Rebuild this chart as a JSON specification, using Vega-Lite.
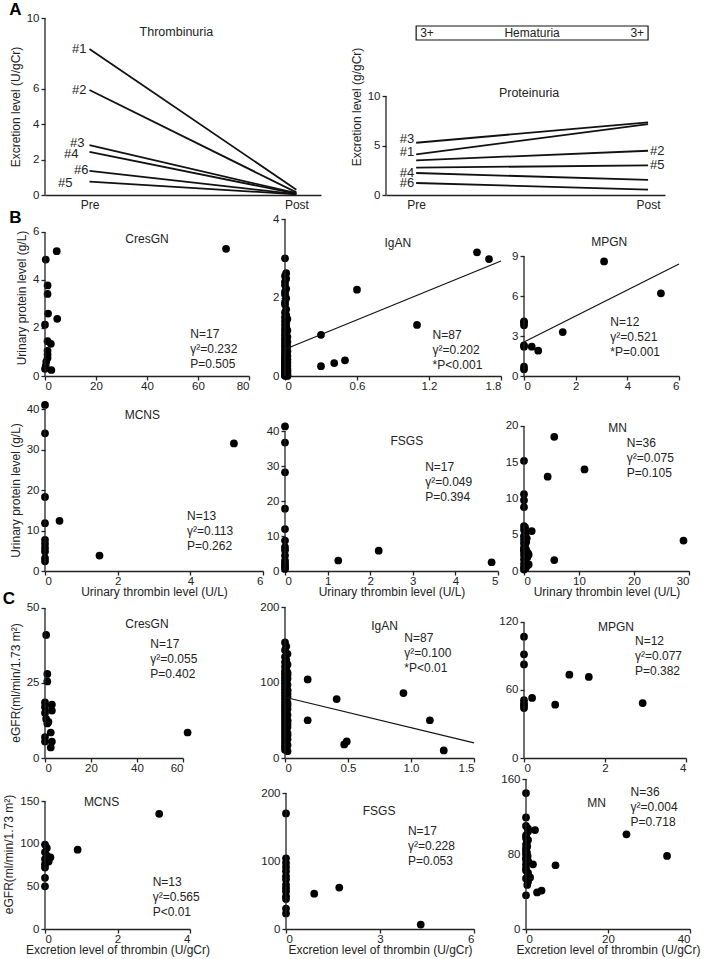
{
"$schema":"https://vega.github.io/schema/vega-lite/v6.json",
"autosize":{"type":"pad"},
"padding":{"left":2,"top":1,"right":2,"bottom":1},
"config":{
"view":{"stroke":null},
"font":"Liberation Sans",
"axis":{"grid":false,"labelFont":"Liberation Sans","labelFontSize":11.5,"labelColor":"#222","titleFont":"Liberation Sans","titleFontSize":12,"titleFontWeight":"normal","titleColor":"#222","domainColor":"#222","domainWidth":1.3,"tickColor":"#222","tickWidth":1.3,"tickSize":4,"labelPadding":2,"titlePadding":4},
"axisY":{"domain":false},
"axisX":{"titlePadding":0,"labelPadding":0},
"text":{"font":"Liberation Sans","fontSize":12,"color":"#222"},
"circle":{"size":60,"opacity":1,"color":"#000"},
"line":{"color":"#111","strokeWidth":1.2},
"rule":{"color":"#222","strokeWidth":1.3},
"title":{"anchor":"start","fontSize":17,"fontWeight":"bold","font":"Liberation Sans","color":"#000","offset":-7}
},
"datasets":{
"thromb":[{"id":"#1","t":0,"v":8.25},{"id":"#1","t":1,"v":0.3},{"id":"#2","t":0,"v":5.93},{"id":"#2","t":1,"v":0.15},{"id":"#3","t":0,"v":2.82},{"id":"#3","t":1,"v":0.1},{"id":"#4","t":0,"v":2.43},{"id":"#4","t":1,"v":0.08},{"id":"#5","t":0,"v":0.75},{"id":"#5","t":1,"v":0.04},{"id":"#6","t":0,"v":1.36},{"id":"#6","t":1,"v":0.05}],
"prot":[{"id":"#1","t":0,"v":4.1},{"id":"#1","t":1,"v":7.17},{"id":"#2","t":0,"v":3.5},{"id":"#2","t":1,"v":4.47},{"id":"#3","t":0,"v":5.28},{"id":"#3","t":1,"v":7.34},{"id":"#4","t":0,"v":2.22},{"id":"#4","t":1,"v":1.52},{"id":"#5","t":0,"v":2.76},{"id":"#5","t":1,"v":3.0},{"id":"#6","t":0,"v":1.21},{"id":"#6","t":1,"v":0.54}],
"bCres":[{"x":4.6,"y":5.2},{"x":0.3,"y":4.85},{"x":1.0,"y":3.77},{"x":1.0,"y":3.42},{"x":1.2,"y":2.6},{"x":4.8,"y":2.38},{"x":0,"y":2.14},{"x":1.0,"y":1.45},{"x":2.3,"y":1.34},{"x":1.0,"y":1.05},{"x":1.0,"y":0.9},{"x":1.0,"y":0.75},{"x":0.3,"y":0.42},{"x":0,"y":0.3},{"x":2.5,"y":0.25},{"x":71,"y":5.3},{"x":0.5,"y":0.6}],
"bIgan":[{"x":0,"y":3.0},{"x":0.01,"y":2.62},{"x":0,"y":2.55},{"x":0.01,"y":2.48},{"x":0,"y":2.4},{"x":0,"y":2.32},{"x":0.01,"y":2.22},{"x":0,"y":2.15},{"x":0,"y":2.08},{"x":0.01,"y":1.98},{"x":0,"y":1.88},{"x":0,"y":1.82},{"x":0.01,"y":1.7},{"x":0,"y":1.62},{"x":0.01,"y":1.55},{"x":0,"y":1.5},{"x":0.02,"y":1.45},{"x":0,"y":1.4},{"x":0.01,"y":1.35},{"x":0,"y":1.3},{"x":0.01,"y":1.25},{"x":0,"y":1.2},{"x":0.02,"y":1.16},{"x":0,"y":1.12},{"x":0.01,"y":1.08},{"x":0,"y":1.04},{"x":0.02,"y":1.0},{"x":0,"y":0.96},{"x":0.01,"y":0.93},{"x":0,"y":0.9},{"x":0.02,"y":0.87},{"x":0,"y":0.84},{"x":0.01,"y":0.81},{"x":0,"y":0.78},{"x":0.02,"y":0.75},{"x":0,"y":0.72},{"x":0.01,"y":0.69},{"x":0,"y":0.66},{"x":0.02,"y":0.63},{"x":0,"y":0.6},{"x":0.01,"y":0.57},{"x":0,"y":0.54},{"x":0.02,"y":0.51},{"x":0,"y":0.48},{"x":0.01,"y":0.46},{"x":0,"y":0.44},{"x":0.02,"y":0.42},{"x":0,"y":0.4},{"x":0.01,"y":0.38},{"x":0,"y":0.36},{"x":0.02,"y":0.34},{"x":0,"y":0.32},{"x":0.01,"y":0.3},{"x":0,"y":0.28},{"x":0.02,"y":0.26},{"x":0,"y":0.24},{"x":0.01,"y":0.22},{"x":0,"y":0.2},{"x":0.02,"y":0.18},{"x":0,"y":0.17},{"x":0.01,"y":0.16},{"x":0,"y":0.15},{"x":0.02,"y":0.14},{"x":0,"y":0.13},{"x":0.01,"y":0.12},{"x":0,"y":0.11},{"x":0.02,"y":0.1},{"x":0,"y":0.09},{"x":0.01,"y":0.08},{"x":0,"y":0.07},{"x":0.02,"y":0.06},{"x":0,"y":0.05},{"x":0.01,"y":0.04},{"x":0,"y":0.03},{"x":0.02,"y":0.02},{"x":0,"y":0.015},{"x":0.01,"y":0.01},{"x":0,"y":0.005},{"x":0.02,"y":0.0},{"x":0.3,"y":1.05},{"x":0.3,"y":0.25},{"x":0.41,"y":0.33},{"x":0.5,"y":0.4},{"x":0.6,"y":2.2},{"x":1.1,"y":1.3},{"x":1.6,"y":3.15},{"x":1.7,"y":2.98}],
"bIganFit":[{"x":0,"y":0.68},{"x":1.8,"y":2.93}],
"bMpgn":[{"x":3.1,"y":8.6},{"x":5.3,"y":6.2},{"x":1.5,"y":3.3},{"x":0,"y":4.1},{"x":0,"y":3.8},{"x":0,"y":2.3},{"x":0.3,"y":2.2},{"x":0.55,"y":1.9},{"x":0,"y":0.7},{"x":0,"y":0.5},{"x":0,"y":4.0},{"x":0,"y":2.2}],
"bMpgnFit":[{"x":0,"y":2.55},{"x":6,"y":8.4}],
"bMcns":[{"x":0,"y":41},{"x":0,"y":34},{"x":0,"y":18.3},{"x":0,"y":11.8},{"x":0,"y":7.7},{"x":0,"y":6.7},{"x":0,"y":5.7},{"x":0,"y":3.2},{"x":0,"y":2.4},{"x":0.4,"y":12.4},{"x":1.5,"y":3.8},{"x":5.2,"y":31.5},{"x":0,"y":4.8}],
"bFsgs":[{"x":0,"y":41.3},{"x":0,"y":36.7},{"x":0,"y":28.2},{"x":0,"y":17.8},{"x":0,"y":12},{"x":0,"y":8.7},{"x":0,"y":5.9},{"x":0,"y":4.4},{"x":0,"y":3},{"x":0,"y":1.6},{"x":0,"y":0.6},{"x":1.25,"y":3},{"x":2.2,"y":5.8},{"x":4.85,"y":2.5},{"x":0,"y":2.2},{"x":0,"y":6.8},{"x":0,"y":1}],
"bMn":[{"x":5.5,"y":18.5},{"x":0,"y":15.2},{"x":4.3,"y":13},{"x":11,"y":14},{"x":0,"y":10.6},{"x":0,"y":9.75},{"x":0,"y":8.8},{"x":0,"y":6.2},{"x":0,"y":5.7},{"x":1.4,"y":5.5},{"x":0,"y":4.8},{"x":0,"y":4.3},{"x":0,"y":3.8},{"x":0,"y":3.2},{"x":0,"y":2.7},{"x":0,"y":2.2},{"x":0,"y":1.6},{"x":0,"y":1.0},{"x":0,"y":0.5},{"x":0.85,"y":2.25},{"x":0.85,"y":0.9},{"x":5.5,"y":1.5},{"x":29,"y":4.2},{"x":0.3,"y":5.2},{"x":0.5,"y":4.5},{"x":0.2,"y":3.5},{"x":0.4,"y":2.9},{"x":0.6,"y":1.9},{"x":0.3,"y":1.3},{"x":0,"y":0.2},{"x":0.5,"y":0.7},{"x":0.2,"y":6.0},{"x":0.4,"y":4.0},{"x":0,"y":3.0},{"x":0.7,"y":2.5},{"x":0.3,"y":0.4}],
"cCres":[{"x":0.5,"y":41},{"x":1,"y":28},{"x":1,"y":25.5},{"x":0,"y":18.5},{"x":3,"y":17.8},{"x":3,"y":15.8},{"x":0,"y":15},{"x":0.5,"y":13},{"x":1,"y":11.5},{"x":2.5,"y":8.5},{"x":0,"y":7},{"x":0,"y":5.5},{"x":3,"y":5.5},{"x":2.5,"y":3.5},{"x":62,"y":8.5},{"x":0,"y":17},{"x":1.5,"y":12}],
"cIgan":[{"x":0,"y":153},{"x":0.01,"y":148},{"x":0,"y":143},{"x":0.02,"y":138},{"x":0,"y":134},{"x":0.01,"y":130},{"x":0,"y":127},{"x":0.02,"y":124},{"x":0,"y":121},{"x":0.01,"y":118},{"x":0,"y":115},{"x":0.02,"y":113},{"x":0,"y":111},{"x":0.01,"y":109},{"x":0,"y":107},{"x":0.02,"y":105},{"x":0,"y":103},{"x":0.01,"y":101},{"x":0,"y":99},{"x":0.02,"y":97},{"x":0,"y":95},{"x":0.01,"y":93},{"x":0,"y":91},{"x":0.02,"y":89},{"x":0,"y":87},{"x":0.01,"y":85},{"x":0,"y":83},{"x":0.02,"y":81},{"x":0,"y":79},{"x":0.01,"y":77},{"x":0,"y":75},{"x":0.02,"y":73},{"x":0,"y":71},{"x":0.01,"y":69},{"x":0,"y":67},{"x":0.02,"y":65},{"x":0,"y":63},{"x":0.01,"y":61},{"x":0,"y":59},{"x":0.02,"y":57},{"x":0,"y":55},{"x":0.01,"y":53},{"x":0,"y":51},{"x":0.02,"y":49},{"x":0,"y":47},{"x":0.01,"y":45},{"x":0,"y":43},{"x":0.02,"y":41},{"x":0,"y":39},{"x":0.01,"y":37},{"x":0,"y":35},{"x":0.02,"y":33},{"x":0,"y":31},{"x":0.01,"y":29},{"x":0,"y":27},{"x":0.02,"y":25},{"x":0,"y":23},{"x":0.01,"y":21},{"x":0,"y":19},{"x":0.02,"y":17},{"x":0,"y":15},{"x":0.01,"y":13},{"x":0,"y":11},{"x":0.02,"y":9},{"x":0.01,"y":100},{"x":0.02,"y":90},{"x":0.01,"y":80},{"x":0.02,"y":70},{"x":0.01,"y":60},{"x":0.02,"y":50},{"x":0.01,"y":40},{"x":0.02,"y":30},{"x":0.01,"y":20},{"x":0.02,"y":110},{"x":0.01,"y":120},{"x":0.02,"y":85},{"x":0.01,"y":65},{"x":0.02,"y":45},{"x":0.01,"y":25},{"x":0.18,"y":104},{"x":0.18,"y":50},{"x":0.41,"y":78},{"x":0.47,"y":18},{"x":0.49,"y":22},{"x":0.94,"y":86},{"x":1.15,"y":50},{"x":1.26,"y":10}],
"cIganFit":[{"x":0,"y":80.5},{"x":1.5,"y":20}],
"cMpgn":[{"x":0,"y":107},{"x":0,"y":91.5},{"x":0,"y":82.5},{"x":1.12,"y":73.5},{"x":1.6,"y":71.5},{"x":0.2,"y":53},{"x":0,"y":51},{"x":0,"y":48},{"x":0,"y":44},{"x":0.77,"y":47},{"x":2.93,"y":48.5},{"x":0,"y":46}],
"cMcns":[{"x":3.15,"y":135},{"x":0.9,"y":93},{"x":0,"y":99},{"x":0.05,"y":95},{"x":0,"y":90},{"x":0.15,"y":84},{"x":0,"y":82},{"x":0,"y":76},{"x":0,"y":72},{"x":0,"y":60},{"x":0,"y":50},{"x":0.05,"y":86},{"x":0.1,"y":79}],
"cFsgs":[{"x":0,"y":170},{"x":0,"y":104},{"x":0,"y":91},{"x":0,"y":77.6},{"x":0,"y":72.7},{"x":0,"y":60},{"x":0,"y":55},{"x":0,"y":44.3},{"x":0,"y":22.8},{"x":0.9,"y":52},{"x":1.7,"y":61},{"x":4.3,"y":6.5},{"x":0,"y":65},{"x":0,"y":85},{"x":0,"y":48},{"x":0,"y":30},{"x":0,"y":97}],
"cMn":[{"x":0,"y":145},{"x":0,"y":119},{"x":0.5,"y":107},{"x":0.5,"y":104},{"x":2.2,"y":105.5},{"x":0,"y":97},{"x":0,"y":90},{"x":0,"y":83},{"x":0,"y":80},{"x":0,"y":76},{"x":0,"y":69},{"x":1.7,"y":69},{"x":7.2,"y":68},{"x":0,"y":62.5},{"x":0.5,"y":57},{"x":0.5,"y":50.5},{"x":2.7,"y":39},{"x":3.8,"y":41},{"x":0,"y":36},{"x":24.5,"y":101},{"x":34.4,"y":78},{"x":0,"y":110},{"x":0.5,"y":95},{"x":0.3,"y":88},{"x":0,"y":86},{"x":0.4,"y":78},{"x":0,"y":74},{"x":0.6,"y":72},{"x":0,"y":65},{"x":0.5,"y":60},{"x":0,"y":54},{"x":0.3,"y":47},{"x":1,"y":55},{"x":0.2,"y":92},{"x":0,"y":100},{"x":0.2,"y":82}]
},
"spacing":-8,
"vconcat":[
{"spacing":-1,"vconcat":[
{"title":{"text":"A","offset":-7},"spacing":0,"bounds":"flush","hconcat":[
{"width":276,"height":177,"data":{"name":"thromb"},"layer":[
{"mark":{"type":"line","strokeWidth":1.8},"encoding":{"x":{"field":"t","type":"quantitative","scale":{"domain":[-0.215,1.119],"nice":false,"zero":false},"axis":{"values":[0,1],"labelExpr":"datum.value==0?'Pre':'Post'","ticks":false,"title":null,"labelFontSize":12,"labelPadding":4}},"y":{"field":"v","type":"quantitative","scale":{"domain":[0,10],"nice":false,"zero":false},"axis":{"values":[0,2,4,6,10],"title":"Excretion level (U/gCr)"}},"detail":{"field":"id"}}},
{"transform":[{"filter":"datum.t==0 && (datum.id=='#1' || datum.id=='#2')"}],"mark":{"type":"text","align":"right","dx":-3,"fontSize":13},"encoding":{"x":{"field":"t","type":"quantitative"},"y":{"field":"v","type":"quantitative"},"text":{"field":"id"}}},
{"transform":[{"filter":"datum.t==0 && datum.id=='#3'"}],"mark":{"type":"text","align":"right","dx":-5,"dy":-2,"fontSize":13},"encoding":{"x":{"field":"t","type":"quantitative"},"y":{"field":"v","type":"quantitative"},"text":{"field":"id"}}},
{"transform":[{"filter":"datum.t==0 && datum.id=='#4'"}],"mark":{"type":"text","align":"right","dx":-11,"dy":2,"fontSize":13},"encoding":{"x":{"field":"t","type":"quantitative"},"y":{"field":"v","type":"quantitative"},"text":{"field":"id"}}},
{"transform":[{"filter":"datum.t==0 && datum.id=='#6'"}],"mark":{"type":"text","align":"right","dx":-1,"dy":-1,"fontSize":13},"encoding":{"x":{"field":"t","type":"quantitative"},"y":{"field":"v","type":"quantitative"},"text":{"field":"id"}}},
{"transform":[{"filter":"datum.t==0 && datum.id=='#5'"}],"mark":{"type":"text","align":"right","dx":-17,"dy":1,"fontSize":13},"encoding":{"x":{"field":"t","type":"quantitative"},"y":{"field":"v","type":"quantitative"},"text":{"field":"id"}}},
{"data":{"values":[{}]},"mark":"rule","encoding":{"x":{"datum":-0.215},"y":{"datum":0},"y2":{"datum":10}}},
{"data":{"values":[{}]},"mark":{"type":"text","fontSize":12.5},"encoding":{"x":{"datum":0.42},"y":{"datum":9.2},"text":{"value":"Thrombinuria"}}}
]},
{"width":65,"height":10,"data":{"values":[{}]},"mark":{"type":"point","opacity":0}},
{"width":279,"height":177,"data":{"name":"prot"},"layer":[
{"mark":{"type":"line","strokeWidth":1.8},"encoding":{"x":{"field":"t","type":"quantitative","scale":{"domain":[-0.13,1.073],"nice":false,"zero":false},"axis":{"values":[0,1],"labelExpr":"datum.value==0?'Pre':'Post'","ticks":false,"title":null,"labelFontSize":12,"labelPadding":4}},"y":{"field":"v","type":"quantitative","scale":{"domain":[0,17.88],"nice":false,"zero":false},"axis":{"values":[0,5,10],"title":"Excretion level (g/gCr)"}},"detail":{"field":"id"}}},
{"transform":[{"filter":"datum.t==0 && datum.id=='#3'"}],"mark":{"type":"text","align":"right","dx":-2,"dy":-4,"fontSize":13},"encoding":{"x":{"field":"t","type":"quantitative"},"y":{"field":"v","type":"quantitative"},"text":{"field":"id"}}},
{"transform":[{"filter":"datum.t==0 && datum.id=='#1'"}],"mark":{"type":"text","align":"right","dx":-2,"dy":-2,"fontSize":13},"encoding":{"x":{"field":"t","type":"quantitative"},"y":{"field":"v","type":"quantitative"},"text":{"field":"id"}}},
{"transform":[{"filter":"datum.t==0 && (datum.id=='#4' || datum.id=='#6')"}],"mark":{"type":"text","align":"right","dx":-2,"fontSize":13},"encoding":{"x":{"field":"t","type":"quantitative"},"y":{"field":"v","type":"quantitative"},"text":{"field":"id"}}},
{"transform":[{"filter":"datum.t==1 && (datum.id=='#2' || datum.id=='#5')"}],"mark":{"type":"text","align":"left","dx":2,"fontSize":13},"encoding":{"x":{"field":"t","type":"quantitative"},"y":{"field":"v","type":"quantitative"},"text":{"field":"id"}}},
{"data":{"values":[{}]},"mark":"rule","encoding":{"x":{"datum":-0.13},"y":{"datum":0},"y2":{"datum":10}}},
{"data":{"values":[{}]},"mark":{"type":"rect","fillOpacity":0,"stroke":"#111","strokeWidth":1.2},"encoding":{"x":{"datum":0},"x2":{"datum":1},"y":{"datum":15.66},"y2":{"datum":17.07}}},
{"data":{"values":[{}]},"mark":{"type":"text","align":"left","dx":4,"fontSize":12},"encoding":{"x":{"datum":0},"y":{"datum":16.36},"text":{"value":"3+"}}},
{"data":{"values":[{}]},"mark":{"type":"text","fontSize":12},"encoding":{"x":{"datum":0.5},"y":{"datum":16.36},"text":{"value":"Hematuria"}}},
{"data":{"values":[{}]},"mark":{"type":"text","align":"right","dx":-4,"fontSize":12},"encoding":{"x":{"datum":1},"y":{"datum":16.36},"text":{"value":"3+"}}},
{"data":{"values":[{}]},"mark":{"type":"text","fontSize":12.5},"encoding":{"x":{"datum":0.487},"y":{"datum":10.3},"text":{"value":"Proteinuria"}}}
]}
]},
{"title":{"text":"B","offset":-14},"spacing":9,"vconcat":[
{"spacing":0,"bounds":"flush","hconcat":[
{"width":204,"height":157,"layer":[
{"data":{"name":"bCres"},"mark":"circle","encoding":{"x":{"field":"x","type":"quantitative","scale":{"domain":[0,80],"nice":false,"zero":false},"axis":{"values":[0,20,40,60,80],"title":null}},"y":{"field":"y","type":"quantitative","scale":{"domain":[0,6.54],"nice":false,"zero":false},"axis":{"values":[0,2,4,6],"title":"Urinary protein level (g/L)"}}}},
{"data":{"values":[{}]},"mark":"rule","encoding":{"x":{"datum":0},"y":{"datum":0},"y2":{"datum":6}}},
{"data":{"values":[{}]},"mark":{"type":"text"},"encoding":{"x":{"datum":40},"y":{"datum":5.7},"text":{"value":"CresGN"}}},
{"data":{"values":[{}]},"mark":{"type":"text","align":"left","baseline":"top","lineHeight":15},"encoding":{"x":{"datum":57},"y":{"datum":1.96},"text":{"value":["N=17","γ²=0.232","P=0.505"]}}}
]},
{"width":36,"height":10,"data":{"values":[{}]},"mark":{"type":"point","opacity":0}},
{"width":216,"height":157,"layer":[
{"data":{"name":"bIgan"},"mark":"circle","encoding":{"x":{"field":"x","type":"quantitative","scale":{"domain":[0,1.8],"nice":false,"zero":false},"axis":{"values":[0,0.6,1.2,1.8],"format":"~g","title":null}},"y":{"field":"y","type":"quantitative","scale":{"domain":[0,4],"nice":false,"zero":false},"axis":{"values":[0,1,2,3,4],"title":null}}}},
{"data":{"name":"bIganFit"},"mark":"line","encoding":{"x":{"field":"x","type":"quantitative"},"y":{"field":"y","type":"quantitative"}}},
{"data":{"values":[{}]},"mark":"rule","encoding":{"x":{"datum":0},"y":{"datum":0},"y2":{"datum":4}}},
{"data":{"values":[{}]},"mark":{"type":"text"},"encoding":{"x":{"datum":0.94},"y":{"datum":3.38},"text":{"value":"IgAN"}}},
{"data":{"values":[{}]},"mark":{"type":"text","align":"left","baseline":"top","lineHeight":15},"encoding":{"x":{"datum":1.23},"y":{"datum":1.18},"text":{"value":["N=87","γ²=0.202","*P<0.001"]}}}
]},
{"width":23,"height":10,"data":{"values":[{}]},"mark":{"type":"point","opacity":0}},
{"width":155,"height":157,"layer":[
{"data":{"name":"bMpgn"},"mark":"circle","encoding":{"x":{"field":"x","type":"quantitative","scale":{"domain":[0,6],"nice":false,"zero":false},"axis":{"values":[0,2,4,6],"title":null}},"y":{"field":"y","type":"quantitative","scale":{"domain":[0,11.78],"nice":false,"zero":false},"axis":{"values":[0,3,6,9],"title":null}}}},
{"data":{"name":"bMpgnFit"},"mark":"line","encoding":{"x":{"field":"x","type":"quantitative"},"y":{"field":"y","type":"quantitative"}}},
{"data":{"values":[{}]},"mark":"rule","encoding":{"x":{"datum":0},"y":{"datum":0},"y2":{"datum":9}}},
{"data":{"values":[{}]},"mark":{"type":"text"},"encoding":{"x":{"datum":3.3},"y":{"datum":10.07},"text":{"value":"MPGN"}}},
{"data":{"values":[{}]},"mark":{"type":"text","align":"left","baseline":"top","lineHeight":15},"encoding":{"x":{"datum":3.34},"y":{"datum":4.43},"text":{"value":["N=12","γ²=0.521","*P=0.001"]}}}
]}
]},
{"spacing":0,"bounds":"flush","hconcat":[
{"width":218,"height":162,"layer":[
{"data":{"name":"bMcns"},"mark":"circle","encoding":{"x":{"field":"x","type":"quantitative","scale":{"domain":[0,6],"nice":false,"zero":false},"axis":{"values":[0,2,4,6],"title":"Urinary thrombin level (U/L)"}},"y":{"field":"y","type":"quantitative","scale":{"domain":[0,40],"nice":false,"zero":false},"axis":{"values":[0,10,20,30,40],"title":"Urinary protein level (g/L)"}}}},
{"data":{"values":[{}]},"mark":"rule","encoding":{"x":{"datum":0},"y":{"datum":0},"y2":{"datum":40}}},
{"data":{"values":[{}]},"mark":{"type":"text"},"encoding":{"x":{"datum":2.68},"y":{"datum":38.4},"text":{"value":"MCNS"}}},
{"data":{"values":[{}]},"mark":{"type":"text","align":"left","baseline":"top","lineHeight":15},"encoding":{"x":{"datum":3.91},"y":{"datum":14.9},"text":{"value":["N=13","γ²=0.113","P=0.262"]}}}
]},
{"width":22,"height":10,"data":{"values":[{}]},"mark":{"type":"point","opacity":0}},
{"width":213,"height":162,"layer":[
{"data":{"name":"bFsgs"},"mark":"circle","encoding":{"x":{"field":"x","type":"quantitative","scale":{"domain":[0,5],"nice":false,"zero":false},"axis":{"values":[0,1,2,3,4,5],"title":"Urinary thrombin level (U/L)"}},"y":{"field":"y","type":"quantitative","scale":{"domain":[0,46.29],"nice":false,"zero":false},"axis":{"values":[0,10,20,30,40],"title":null}}}},
{"data":{"values":[{}]},"mark":"rule","encoding":{"x":{"datum":0},"y":{"datum":0},"y2":{"datum":40}}},
{"data":{"values":[{}]},"mark":{"type":"text"},"encoding":{"x":{"datum":2.86},"y":{"datum":37.2},"text":{"value":"FSGS"}}},
{"data":{"values":[{}]},"mark":{"type":"text","align":"left","baseline":"top","lineHeight":15},"encoding":{"x":{"datum":3.29},"y":{"datum":31.1},"text":{"value":["N=17","γ²=0.049","P=0.394"]}}}
]},
{"width":26,"height":10,"data":{"values":[{}]},"mark":{"type":"point","opacity":0}},
{"width":165,"height":162,"layer":[
{"data":{"name":"bMn"},"mark":"circle","encoding":{"x":{"field":"x","type":"quantitative","scale":{"domain":[0,30],"nice":false,"zero":false},"axis":{"values":[0,10,20,30],"title":"Urinary thrombin level (U/L)"}},"y":{"field":"y","type":"quantitative","scale":{"domain":[0,22.34],"nice":false,"zero":false},"axis":{"values":[0,5,10,15,20],"title":null}}}},
{"data":{"values":[{}]},"mark":"rule","encoding":{"x":{"datum":0},"y":{"datum":0},"y2":{"datum":20}}},
{"data":{"values":[{}]},"mark":{"type":"text"},"encoding":{"x":{"datum":17},"y":{"datum":19.7},"text":{"value":"MN"}}},
{"data":{"values":[{}]},"mark":{"type":"text","align":"left","baseline":"top","lineHeight":15},"encoding":{"x":{"datum":18.7},"y":{"datum":18.4},"text":{"value":["N=36","γ²=0.075","P=0.105"]}}}
]}
]}
]}
]},
{"title":{"text":"C","offset":-7},"spacing":-1,"vconcat":[
{"spacing":0,"bounds":"flush","hconcat":[
{"width":138,"height":151,"layer":[
{"data":{"name":"cCres"},"mark":"circle","encoding":{"x":{"field":"x","type":"quantitative","scale":{"domain":[0,60],"nice":false,"zero":false},"axis":{"values":[0,20,40,60],"title":null}},"y":{"field":"y","type":"quantitative","scale":{"domain":[0,50.33],"nice":false,"zero":false},"axis":{"values":[0,25,50],"title":"eGFR(ml/min/1.73 m²)"}}}},
{"data":{"values":[{}]},"mark":"rule","encoding":{"x":{"datum":0},"y":{"datum":0},"y2":{"datum":50}}},
{"data":{"values":[{}]},"mark":{"type":"text"},"encoding":{"x":{"datum":44.3},"y":{"datum":44.7},"text":{"value":"CresGN"}}},
{"data":{"values":[{}]},"mark":{"type":"text","align":"left","baseline":"top","lineHeight":15},"encoding":{"x":{"datum":45.8},"y":{"datum":39.5},"text":{"value":["N=17","γ²=0.055","P=0.402"]}}}
]},
{"width":102,"height":10,"data":{"values":[{}]},"mark":{"type":"point","opacity":0}},
{"width":189,"height":151,"layer":[
{"data":{"name":"cIgan"},"mark":"circle","encoding":{"x":{"field":"x","type":"quantitative","scale":{"domain":[0,1.5],"nice":false,"zero":false},"axis":{"values":[0,0.5,1,1.5],"labelExpr":"datum.value==0?'0':format(datum.value,'.1f')","title":null}},"y":{"field":"y","type":"quantitative","scale":{"domain":[0,200],"nice":false,"zero":false},"axis":{"values":[0,100,200],"title":null}}}},
{"data":{"name":"cIganFit"},"mark":"line","encoding":{"x":{"field":"x","type":"quantitative"},"y":{"field":"y","type":"quantitative"}}},
{"data":{"values":[{}]},"mark":"rule","encoding":{"x":{"datum":0},"y":{"datum":0},"y2":{"datum":200}}},
{"data":{"values":[{}]},"mark":{"type":"text"},"encoding":{"x":{"datum":0.79},"y":{"datum":175},"text":{"value":"IgAN"}}},
{"data":{"values":[{}]},"mark":{"type":"text","align":"left","baseline":"top","lineHeight":15},"encoding":{"x":{"datum":0.947},"y":{"datum":165.5},"text":{"value":["N=87","γ²=0.100","*P<0.01"]}}}
]},
{"width":50,"height":10,"data":{"values":[{}]},"mark":{"type":"point","opacity":0}},
{"width":162,"height":151,"layer":[
{"data":{"name":"cMpgn"},"mark":"circle","encoding":{"x":{"field":"x","type":"quantitative","scale":{"domain":[0,4],"nice":false,"zero":false},"axis":{"values":[0,2,4],"title":null}},"y":{"field":"y","type":"quantitative","scale":{"domain":[0,133.2],"nice":false,"zero":false},"axis":{"values":[0,60,120],"title":null}}}},
{"data":{"values":[{}]},"mark":"rule","encoding":{"x":{"datum":0},"y":{"datum":0},"y2":{"datum":120}}},
{"data":{"values":[{}]},"mark":{"type":"text"},"encoding":{"x":{"datum":2.27},"y":{"datum":115.9},"text":{"value":"MPGN"}}},
{"data":{"values":[{}]},"mark":{"type":"text","align":"left","baseline":"top","lineHeight":15},"encoding":{"x":{"datum":2.74},"y":{"datum":107.4},"text":{"value":["N=12","γ²=0.077","P=0.382"]}}}
]}
]},
{"spacing":0,"bounds":"flush","hconcat":[
{"width":145,"height":150,"layer":[
{"data":{"name":"cMcns"},"mark":"circle","encoding":{"x":{"field":"x","type":"quantitative","scale":{"domain":[0,4],"nice":false,"zero":false},"axis":{"values":[0,2,4],"title":"Excretion level of thrombin (U/gCr)"}},"y":{"field":"y","type":"quantitative","scale":{"domain":[0,175.8],"nice":false,"zero":false},"axis":{"values":[0,50,100,150],"title":"eGFR(ml/min/1.73 m²)"}}}},
{"data":{"values":[{}]},"mark":"rule","encoding":{"x":{"datum":0},"y":{"datum":0},"y2":{"datum":150}}},
{"data":{"values":[{}]},"mark":{"type":"text"},"encoding":{"x":{"datum":1.56},"y":{"datum":149},"text":{"value":"MCNS"}}},
{"data":{"values":[{}]},"mark":{"type":"text","align":"left","baseline":"top","lineHeight":15},"encoding":{"x":{"datum":2.97},"y":{"datum":61},"text":{"value":["N=13","γ²=0.565","P<0.01"]}}}
]},
{"width":96,"height":10,"data":{"values":[{}]},"mark":{"type":"point","opacity":0}},
{"width":188,"height":150,"layer":[
{"data":{"name":"cFsgs"},"mark":"circle","encoding":{"x":{"field":"x","type":"quantitative","scale":{"domain":[0,6],"nice":false,"zero":false},"axis":{"values":[0,3,6],"title":"Excretion level of thrombin (U/gCr)"}},"y":{"field":"y","type":"quantitative","scale":{"domain":[0,220.6],"nice":false,"zero":false},"axis":{"values":[0,100,200],"title":null}}}},
{"data":{"values":[{}]},"mark":"rule","encoding":{"x":{"datum":0},"y":{"datum":0},"y2":{"datum":200}}},
{"data":{"values":[{}]},"mark":{"type":"text"},"encoding":{"x":{"datum":2.97},"y":{"datum":174},"text":{"value":"FSGS"}}},
{"data":{"values":[{}]},"mark":{"type":"text","align":"left","baseline":"top","lineHeight":15},"encoding":{"x":{"datum":3.89},"y":{"datum":152},"text":{"value":["N=17","γ²=0.228","P=0.053"]}}}
]},
{"width":52,"height":10,"data":{"values":[{}]},"mark":{"type":"point","opacity":0}},
{"width":164,"height":150,"layer":[
{"data":{"name":"cMn"},"mark":"circle","encoding":{"x":{"field":"x","type":"quantitative","scale":{"domain":[0,40],"nice":false,"zero":false},"axis":{"values":[0,20,40],"title":"Excretion level of thrombin (U/gCr)"}},"y":{"field":"y","type":"quantitative","scale":{"domain":[0,160],"nice":false,"zero":false},"axis":{"values":[0,80,160],"title":null}}}},
{"data":{"values":[{}]},"mark":"rule","encoding":{"x":{"datum":0},"y":{"datum":0},"y2":{"datum":160}}},
{"data":{"values":[{}]},"mark":{"type":"text"},"encoding":{"x":{"datum":17.2},"y":{"datum":134},"text":{"value":"MN"}}},
{"data":{"values":[{}]},"mark":{"type":"text","align":"left","baseline":"top","lineHeight":15},"encoding":{"x":{"datum":25.5},"y":{"datum":151.5},"text":{"value":["N=36","γ²=0.004","P=0.718"]}}}
]}
]}
]}
]
}
